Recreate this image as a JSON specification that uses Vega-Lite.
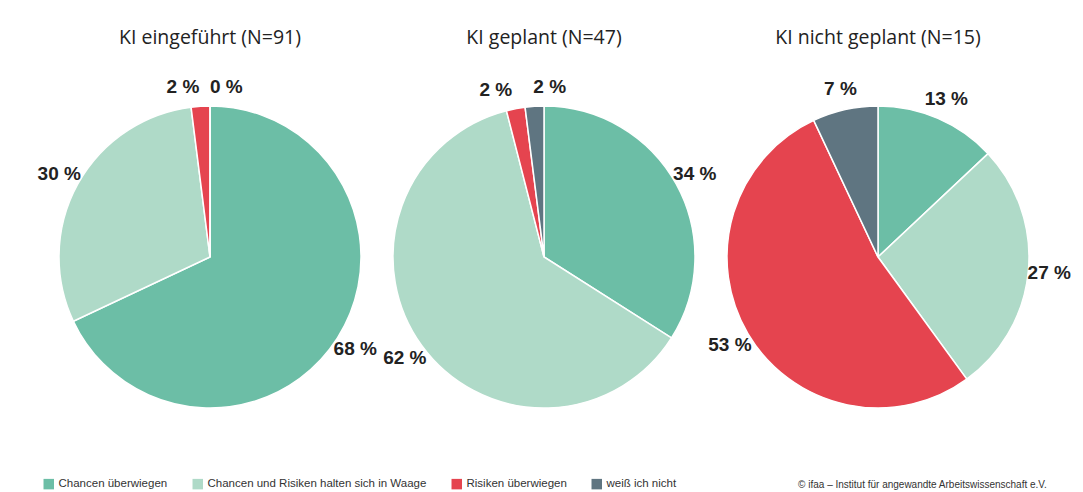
{
  "$schema": "https://vega.github.io/schema/vega-lite/v6.json",
  "background": "white",
  "bounds": "flush",
  "padding": {"left": 37, "top": 27, "right": 0, "bottom": 0},
  "title": {"text": "© ifaa – Institut für angewandte Arbeitswissenschaft e.V.", "orient": "bottom", "anchor": "end", "font": "Liberation Sans", "fontSize": 10, "fontWeight": "normal", "color": "#333333", "offset": 0, "dy": -10, "dx": -24},
  "data": {"values": [
    {"gruppe": "KI eingeführt (N=91)", "kategorie": "Chancen überwiegen", "k": 1, "wert": 68, "label": "68 %"},
    {"gruppe": "KI eingeführt (N=91)", "kategorie": "Chancen und Risiken halten sich in Waage", "k": 2, "wert": 30, "label": "30 %"},
    {"gruppe": "KI eingeführt (N=91)", "kategorie": "Risiken überwiegen", "k": 3, "wert": 2, "label": "2 %"},
    {"gruppe": "KI eingeführt (N=91)", "kategorie": "weiß ich nicht", "k": 4, "wert": 0, "label": "0 %"},
    {"gruppe": "KI geplant (N=47)", "kategorie": "Chancen überwiegen", "k": 1, "wert": 34, "label": "34 %"},
    {"gruppe": "KI geplant (N=47)", "kategorie": "Chancen und Risiken halten sich in Waage", "k": 2, "wert": 62, "label": "62 %"},
    {"gruppe": "KI geplant (N=47)", "kategorie": "Risiken überwiegen", "k": 3, "wert": 2, "label": "2 %"},
    {"gruppe": "KI geplant (N=47)", "kategorie": "weiß ich nicht", "k": 4, "wert": 2, "label": "2 %"},
    {"gruppe": "KI nicht geplant (N=15)", "kategorie": "Chancen überwiegen", "k": 1, "wert": 13, "label": "13 %"},
    {"gruppe": "KI nicht geplant (N=15)", "kategorie": "Chancen und Risiken halten sich in Waage", "k": 2, "wert": 27, "label": "27 %"},
    {"gruppe": "KI nicht geplant (N=15)", "kategorie": "Risiken überwiegen", "k": 3, "wert": 53, "label": "53 %"},
    {"gruppe": "KI nicht geplant (N=15)", "kategorie": "weiß ich nicht", "k": 4, "wert": 7, "label": "7 %"}
  ]},
  "facet": {
    "column": {
      "field": "gruppe", "type": "nominal",
      "sort": ["KI eingeführt (N=91)", "KI geplant (N=47)", "KI nicht geplant (N=15)"],
      "header": {"title": null, "labelFont": "Open Sans", "labelFontSize": 19.5, "labelColor": "#222222", "labelPadding": 29}
    }
  },
  "spacing": 0,
  "spec": {
    "width": 334,
    "height": 360,
    "encoding": {
      "theta": {"field": "wert", "type": "quantitative", "stack": true},
      "order": {"field": "k", "type": "quantitative"}
    },
    "layer": [
      {
        "mark": {"type": "arc", "outerRadius": 151, "stroke": "white", "strokeWidth": 1.5},
        "encoding": {
          "color": {
            "field": "kategorie", "type": "nominal",
            "scale": {
              "domain": ["Chancen überwiegen", "Chancen und Risiken halten sich in Waage", "Risiken überwiegen", "weiß ich nicht"],
              "range": ["#6cbea6", "#afdac8", "#e5444f", "#5f7581"]
            },
            "legend": {"orient": "bottom", "direction": "horizontal", "title": null, "symbolType": "square", "symbolSize": 110, "symbolStrokeWidth": 0, "labelFont": "Liberation Sans", "labelFontSize": 11.5, "labelLimit": 0, "labelColor": "#333333", "columnPadding": 24, "offset": 41}
          }
        }
      },
      {
        "mark": {"type": "text", "radius": 172, "font": "Liberation Sans", "fontWeight": "bold", "fontSize": 19, "color": "#222222"},
        "encoding": {
          "text": {"condition": {"test": "datum.k <= 2 || datum.wert >= 5", "field": "label"}, "value": ""}
        }
      },
      {
        "mark": {"type": "text", "radius": 170, "align": "right", "font": "Liberation Sans", "fontWeight": "bold", "fontSize": 19, "color": "#222222"},
        "encoding": {
          "text": {"condition": {"test": "datum.k == 3 && datum.wert < 5", "field": "label"}, "value": ""}
        }
      },
      {
        "mark": {"type": "text", "radius": 170, "align": "left", "font": "Liberation Sans", "fontWeight": "bold", "fontSize": 19, "color": "#222222"},
        "encoding": {
          "text": {"condition": {"test": "datum.k == 4 && datum.wert < 5", "field": "label"}, "value": ""}
        }
      }
    ]
  },
  "config": {"view": {"stroke": null}}
}
